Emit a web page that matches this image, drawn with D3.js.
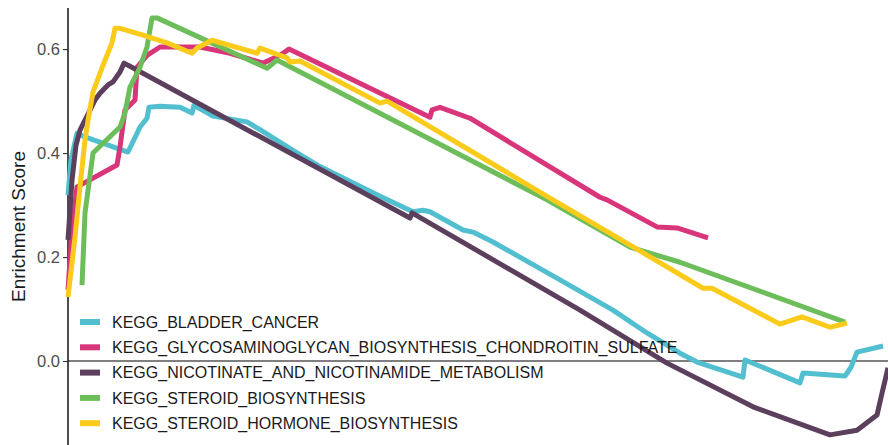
<!DOCTYPE html>
<html>
<head>
<meta charset="utf-8">
<script src="https://cdn.jsdelivr.net/npm/d3@7"></script>
<style>
  html, body { margin: 0; padding: 0; background: #fff; }
  svg { display: block; font-family: "Liberation Sans", Arial, Helvetica, sans-serif; }
</style>
</head>
<body>
<svg id="chart" width="888" height="445"></svg>
<script>
// Running enrichment score curves, gene rank position vs. ES
const pathways = [
  "KEGG_BLADDER_CANCER",
  "KEGG_GLYCOSAMINOGLYCAN_BIOSYNTHESIS_CHONDROITIN_SULFATE",
  "KEGG_NICOTINATE_AND_NICOTINAMIDE_METABOLISM",
  "KEGG_STEROID_BIOSYNTHESIS",
  "KEGG_STEROID_HORMONE_BIOSYNTHESIS"
];
const colors = ["#52BFD0", "#D9357A", "#5B3F5D", "#6DBE5B", "#FBCB1B"];

const bladderRank = [0, 3, 9, 17, 60, 72, 79, 81, 92, 112, 124, 126, 145, 179, 192, 225, 252, 312, 345, 355, 362, 395, 405, 425, 492, 545, 579, 612, 629, 675, 677, 732, 735, 777, 783, 789, 815];
const bladderES   = [0.319, 0.387, 0.438, 0.431, 0.402, 0.45, 0.467, 0.488, 0.49, 0.488, 0.477, 0.492, 0.471, 0.46, 0.445, 0.405, 0.374, 0.317, 0.287, 0.29, 0.287, 0.252, 0.248, 0.229, 0.156, 0.098, 0.054, 0.015, -0.002, -0.031, 0.002, -0.042, -0.023, -0.029, -0.012, 0.017, 0.029];

const glycoRank = [0, 4, 9, 49, 52, 57, 67, 69, 79, 92, 132, 162, 195, 212, 221, 362, 364, 372, 402, 532, 539, 589, 609, 640];
const glycoES   = [0.137, 0.252, 0.335, 0.377, 0.412, 0.483, 0.502, 0.565, 0.588, 0.604, 0.604, 0.592, 0.573, 0.588, 0.6, 0.469, 0.483, 0.488, 0.467, 0.315, 0.31, 0.258, 0.256, 0.237];

const nicotRank = [0, 4, 8, 12, 18, 27, 32, 40, 45, 52, 56, 62, 342, 344, 512, 599, 685, 762, 789, 809, 814, 820];
const nicotES   = [0.233, 0.348, 0.415, 0.444, 0.467, 0.502, 0.515, 0.531, 0.537, 0.556, 0.573, 0.567, 0.275, 0.285, 0.098, -0.004, -0.088, -0.142, -0.133, -0.104, -0.062, -0.013];

const steroidRank = [14, 17, 25, 52, 57, 62, 72, 79, 84, 89, 199, 209, 479, 562, 612, 777];
const steroidES   = [0.146, 0.285, 0.4, 0.45, 0.477, 0.527, 0.565, 0.604, 0.66, 0.66, 0.563, 0.579, 0.31, 0.219, 0.19, 0.075];

const hormoneRank = [0, 7, 12, 17, 20, 25, 35, 44, 47, 52, 75, 99, 124, 129, 144, 189, 192, 219, 222, 232, 312, 319, 485, 549, 635, 644, 712, 734, 762, 779];
const hormoneES   = [0.123, 0.238, 0.335, 0.425, 0.463, 0.517, 0.569, 0.612, 0.64, 0.64, 0.627, 0.612, 0.592, 0.602, 0.617, 0.592, 0.602, 0.583, 0.575, 0.577, 0.496, 0.5, 0.31, 0.238, 0.14, 0.14, 0.071, 0.085, 0.065, 0.073];

const yTicks = [0.0, 0.2, 0.4, 0.6];

const ranks = [bladderRank, glycoRank, nicotRank, steroidRank, hormoneRank];
const scores = [bladderES, glycoES, nicotES, steroidES, hormoneES];
const series = pathways.map((name, i) => ({
  name,
  color: colors[i],
  points: ranks[i].map((r, j) => ({ rank: r, es: scores[i][j] }))
}));

const svg = d3.select("#chart");
const margin = { left: 68, right: 0, top: 8, bottom: 0 };
const W = 888, H = 445;

const x = d3.scaleLinear().domain([0, 820]).range([margin.left, W - margin.right]);
const y = d3.scaleLinear().domain([-0.1615, 0.679]).range([H - margin.bottom, margin.top]);

// Zero reference line
svg.append("line")
  .attr("x1", x(0)).attr("x2", W)
  .attr("y1", y(0)).attr("y2", y(0))
  .attr("stroke", "#000").attr("stroke-width", 1.1);

// Y axis
const yAxis = d3.axisLeft(y).tickValues(yTicks).tickFormat(d3.format(".1f")).tickSize(5).tickPadding(3);
const gy = svg.append("g").attr("transform", `translate(${margin.left},0)`).call(yAxis);
gy.select(".domain").attr("stroke", "#000").attr("stroke-width", 1.4)
  .attr("d", `M0,${margin.top}V${H}`);
gy.selectAll(".tick line").attr("stroke", "#333").attr("stroke-width", 1.1);
gy.selectAll(".tick text").attr("fill", "#4D4D4D").style("font-size", "16.5px")
  .style("font-family", "'Liberation Sans', Arial, sans-serif");

svg.append("text")
  .attr("transform", `translate(25,${(margin.top + H) / 2}) rotate(-90)`)
  .attr("text-anchor", "middle")
  .attr("fill", "#1a1a1a")
  .style("font-size", "19px")
  .text("Enrichment Score");

// Curves
const line = d3.line().x(d => x(d.rank)).y(d => y(d.es));
svg.append("g").selectAll("path")
  .data(series)
  .join("path")
  .attr("d", d => line(d.points))
  .attr("fill", "none")
  .attr("stroke", d => d.color)
  .attr("stroke-width", 5)
  .attr("stroke-linejoin", "round");

// Legend
const legend = svg.append("g").attr("transform", "translate(80,322)");
const rowH = 25.3;
const item = legend.selectAll("g").data(series).join("g")
  .attr("transform", (d, i) => `translate(0,${i * rowH})`);
item.append("rect")
  .attr("x", 0).attr("y", -3).attr("width", 20).attr("height", 6)
  .attr("fill", d => d.color);
item.append("text")
  .attr("x", 32).attr("y", 0).attr("dy", "0.36em")
  .attr("fill", "#1a1a1a")
  .style("font-size", "16px")
  .text(d => d.name);
</script>
</body>
</html>
